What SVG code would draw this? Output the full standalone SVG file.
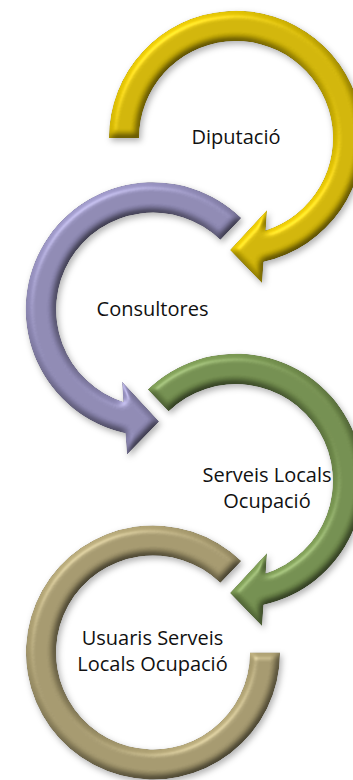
<svg xmlns="http://www.w3.org/2000/svg" width="353" height="780" viewBox="0 0 353 780">
<style>
text{font-family:"Open Sans","Noto Sans","DejaVu Sans",sans-serif;font-size:20px;fill:#111;text-anchor:middle}
</style>
<defs>
<filter id="bev" x="-20%" y="-20%" width="140%" height="140%" color-interpolation-filters="sRGB">
  <feGaussianBlur in="SourceAlpha" stdDeviation="3.5" result="b"/>
  <feDiffuseLighting in="b" surfaceScale="5" diffuseConstant="1" lighting-color="#fff" result="d">
    <feDistantLight azimuth="235" elevation="50"/>
  </feDiffuseLighting>
  <feComposite in="SourceGraphic" in2="d" operator="arithmetic" k1="0.7" k2="0.45" k3="0" k4="0" result="lit"/>
  <feSpecularLighting in="b" surfaceScale="5" specularConstant="0.6" specularExponent="25" lighting-color="#fff" result="s">
    <feDistantLight azimuth="235" elevation="50"/>
  </feSpecularLighting>
  <feComposite in="s" in2="SourceAlpha" operator="in" result="s2"/>
  <feComposite in="lit" in2="s2" operator="arithmetic" k1="0" k2="1" k3="0.28" k4="0" result="all"/>
  <feComposite in="all" in2="SourceAlpha" operator="in" result="clip"/>
  <feGaussianBlur in="SourceAlpha" stdDeviation="3" result="sb"/>
  <feOffset in="sb" dx="2" dy="3" result="so"/>
  <feFlood flood-color="#000" flood-opacity="0.3"/>
  <feComposite in2="so" operator="in" result="sh"/>
  <feMerge><feMergeNode in="sh"/><feMergeNode in="clip"/></feMerge>
</filter>
<path id="arrowA" d="M -88.2 -91.4 A 127 127 0 1 1 27.45 123.8 L 26 145 L -6 112 L 31 72 L 29.6 92.4 A 97 97 0 1 0 -67.4 -69.8 Z"/>
</defs>

<g id="diputacio">
  <g filter="url(#bev)">
    <path fill="#CDB104" transform="translate(236,138)" d="M -127 0 A 127 127 0 1 1 27.45 123.8 L 26 145 L -6 112 L 31 72 L 29.6 92.4 A 97 97 0 1 0 -97 0 Z"/>
  </g>
  <text x="236" y="144">Diputació</text>
</g>

<g id="consultores">
  <g filter="url(#bev)">
    <use href="#arrowA" fill="#8A85AF" transform="translate(153,309.5) scale(-1,1)"/>
  </g>
  <text x="152.5" y="316">Consultores</text>
</g>

<g id="serveis">
  <g filter="url(#bev)">
    <use href="#arrowA" fill="#6F8A4B" transform="translate(236,481)"/>
  </g>
  <text x="267" y="482">Serveis Locals</text>
  <text x="267" y="508">Ocupació</text>
</g>

<g id="usuaris">
  <g filter="url(#bev)">
    <path fill="#A0946A" transform="translate(153,652.5)" d="M 88.2 -91.4 A 127 127 0 1 0 127 0 L 97 0 A 97 97 0 1 1 67.4 -69.8 Z"/>
  </g>
  <text x="152.5" y="645">Usuaris Serveis</text>
  <text x="152.5" y="671">Locals Ocupació</text>
</g>
</svg>
